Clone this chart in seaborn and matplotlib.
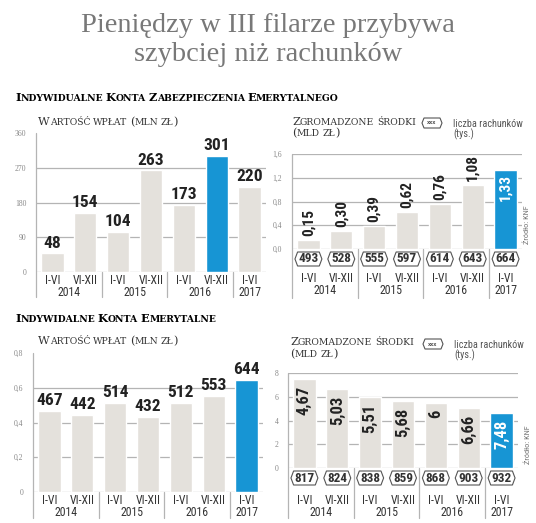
import seaborn as sns
import matplotlib.pyplot as plt
import pandas as pd
from matplotlib import font_manager
from matplotlib.patches import Polygon
from matplotlib.transforms import blended_transform_factory

W, H = 536, 523

# --- data ---
periods = ["I-VI", "VI-XII", "I-VI", "VI-XII", "I-VI", "VI-XII", "I-VI"]
years = ["2014", "2014", "2015", "2015", "2016", "2016", "2017"]

ikze_wplaty = [48, 154, 104, 263, 173, 301, 220]          # mln zl
ikze_srodki = [0.15, 0.30, 0.39, 0.62, 0.76, 1.08, 1.33]  # mld zl
ikze_rachunki = [493, 528, 555, 597, 614, 643, 664]       # tys.

ike_wplaty = [467, 442, 514, 432, 512, 553, 644]           # printed labels
ike_wplaty_bars = [0.467, 0.442, 0.514, 0.432, 0.512, 0.553, 0.644]  # on the 0-0,8 scale
ike_srodki = ["4,67", "5,03", "5,51", "5,68", "6", "6,66", "7,48"]
ike_srodki_bars = [7.48, 6.66, 6.0, 5.68, 5.51, 5.03, 4.67]  # bar heights as drawn
ike_rachunki = [817, 824, 838, 859, 868, 903, 932]

GREY = "#e4e1dc"
BLUE = "#1795d4"
LINE = "#b4b4b4"

sns.set_theme(style="white")
plt.rcParams["font.family"] = ["DejaVu Sans"]

# pick a narrow sans for the numbers, whatever is installed
NUM = {"family": "Roboto", "stretch": "normal"}
narrow = {}
for f in font_manager.fontManager.ttflist:
    low = f.name.lower()
    if "narrow" in low or "condensed" in low:
        narrow.setdefault(f.name, "normal")
    elif f.stretch in ("condensed", "semi-condensed") and f.name in ("DejaVu Sans", "Noto Sans", "Open Sans", "Roboto"):
        narrow.setdefault(f.name, f.stretch)
for pref in ["Liberation Sans Narrow", "Roboto Condensed", "DejaVu Sans Condensed",
             "Noto Sans Condensed", "Open Sans Condensed", "DejaVu Sans", "Noto Sans",
             "Open Sans", "Roboto"]:
    if pref in narrow:
        NUM = {"family": pref, "stretch": narrow[pref]}
        break
NARROW = NUM["family"] != "Roboto" or NUM["stretch"] != "normal"
K = 1.0 if NARROW else 0.9

fig = plt.figure(figsize=(W / 100, H / 100), dpi=100)
fig.patch.set_facecolor("white")


def px(x):
    return x / W


def py(y):
    return 1 - y / H


def small_caps(x, y, text, big, small, **kw):
    r = fig.canvas.get_renderer()
    runs = []
    for ch in text:
        kind = "sp" if ch == " " else ("lo" if ch.islower() else "up")
        if runs and runs[-1][1] == kind:
            runs[-1][0] += ch
        else:
            runs.append([ch, kind])
    cur = x
    for s, kind in runs:
        if kind == "sp":
            cur += len(s) * big * 0.32
            continue
        t = fig.text(px(cur), py(y), s.upper(), fontsize=big if kind == "up" else small,
                     va="baseline", ha="left", **kw)
        cur += t.get_window_extent(r).width


def hexagon(ax, trans, cx, cy, hw, hh, tip):
    pts = [(cx - hw - tip, cy), (cx - hw, cy + hh), (cx + hw, cy + hh),
           (cx + hw + tip, cy), (cx + hw, cy - hh), (cx - hw, cy - hh)]
    ax.add_patch(Polygon(pts, closed=True, transform=trans, fc="white",
                         ec="#555555", lw=0.8, clip_on=False, zorder=3))


def bar_panel(x0, x1, ytop, ybot, heights, hi, ymax, ticks, ticklabels,
              top_line, row1, row2, line_end):
    ax = fig.add_axes([px(x0), py(ybot), px(x1 - x0), (ybot - ytop) / H])
    df = pd.DataFrame({"cat": [f"{p} {y}" for p, y in zip(periods, years)], "v": heights})
    colors = [BLUE if i == hi else GREY for i in range(len(df))]
    sns.barplot(data=df, x="cat", y="v", hue="cat", palette=colors, legend=False,
                width=0.68, saturation=1, ax=ax, zorder=2)
    ax.set_xlim(-0.5, len(df) - 0.5)
    ax.set_ylim(0, ymax)
    ax.set_yticks(ticks, ticklabels)
    ax.set_xticks([])
    ax.set_xlabel("")
    ax.set_ylabel("")
    for s in ax.spines.values():
        s.set_visible(False)
    ax.patch.set_alpha(0)
    grid = ticks if top_line else ticks[:-1]
    for t in grid:
        ax.axhline(t, color=LINE, lw=0.9, zorder=0)
    ax.tick_params(axis="y", length=0, pad=7, labelsize=5.5, labelcolor="#888888")
    for lab in ax.get_yticklabels():
        lab.set_family("Liberation Serif")

    tr = blended_transform_factory(ax.transData, fig.transFigure)
    ax.plot([-0.5, -0.5], [py(ytop), py(line_end)], transform=tr, clip_on=False,
            color=LINE, lw=0.9)
    for i in range(len(years) - 1):
        if years[i] != years[i + 1]:
            ax.plot([i + 0.5, i + 0.5], [py(ybot), py(line_end)], transform=tr,
                    clip_on=False, color=LINE, lw=0.9)
    for i, p in enumerate(periods):
        ax.text(i, py(row1), p, transform=tr, ha="center", va="center",
                fontsize=8.5 * K, color="#333333", **NUM)
    for yr in dict.fromkeys(years):
        idx = [i for i, y in enumerate(years) if y == yr]
        ax.text(sum(idx) / len(idx), py(row2), yr, transform=tr, ha="center",
                va="center", fontsize=8.5 * K, color="#333333", **NUM)
    return ax, tr


def accounts(ax, tr, values, ycen):
    for i, v in enumerate(values):
        hexagon(ax, tr, i, py(ycen), 0.33, 7 / H, 0.08)
        ax.text(i, py(ycen), str(v), transform=tr, ha="center", va="center",
                fontsize=9.5 * K, weight="bold", color="#333333", zorder=4, **NUM)


def legend(x, y):
    ax0 = fig.axes[0]
    hexagon(ax0, fig.transFigure, px(x), py(y), px(8), 5 / H, px(2))
    fig.text(px(x), py(y), "xxx", ha="center", va="center", fontsize=3.5,
             color="#555555", weight="bold")
    fig.text(px(x + 21), py(y + 4), "liczba rachunków", fontsize=7.3 * K,
             color="#555555", va="baseline", **NUM)
    fig.text(px(x + 21), py(y + 14), "(tys.)", fontsize=7.3 * K,
             color="#555555", va="baseline", **NUM)


# --- titles ---
fig.text(px(268), py(32), "Pieniędzy w III filarze przybywa", ha="center", va="baseline",
         family="Liberation Serif", fontsize=20.4, color="#787878")
fig.text(px(268), py(61), "szybciej niż rachunków", ha="center", va="baseline",
         family="Liberation Serif", fontsize=20.4, color="#787878")

small_caps(15, 101, "Indywidualne Konta Zabezpieczenia Emerytalnego", 8.2, 6.7,
           family="DejaVu Serif", weight="bold", color="#000000")
small_caps(15, 322, "Indywidalne Konta Emerytalne", 8.2, 6.7,
           family="DejaVu Serif", weight="bold", color="#000000")

small_caps(38, 125, "Wartość wpłat (mln zł)", 8.2, 6.7, family="DejaVu Serif", color="#333333")
small_caps(292, 125, "Zgromadzone środki", 8.2, 6.7, family="DejaVu Serif", color="#333333")
small_caps(292, 136, "(mld zł)", 8.2, 6.7, family="DejaVu Serif", color="#333333")
small_caps(38, 344, "Wartość wpłat (mln zł)", 8.2, 6.7, family="DejaVu Serif", color="#333333")
small_caps(290, 345, "Zgromadzone środki", 8.2, 6.7, family="DejaVu Serif", color="#333333")
small_caps(290, 357, "(mld zł)", 8.2, 6.7, family="DejaVu Serif", color="#333333")

# --- IKZE: wplaty ---
ax1, tr1 = bar_panel(36, 266, 133, 272, ikze_wplaty, 5, 360, [0, 90, 180, 270, 360],
                     ["0", "90", "180", "270", "360"], False, 280, 292, 297)
for i, v in enumerate(ikze_wplaty):
    ax1.annotate(str(v), (i, v), xytext=(0, 2), textcoords="offset points", ha="center",
                 va="bottom", fontsize=12.5 * K, weight="bold", color="#222222", **NUM)

# --- IKZE: srodki ---
ax2, tr2 = bar_panel(292, 522, 154, 249, ikze_srodki, 6, 1.6, [0, 0.4, 0.8, 1.2, 1.6],
                     ["0,0", "0,4", "0,8", "1,2", "1,6"], True, 279, 291, 298)
for i, v in enumerate(ikze_srodki):
    lab = f"{v:.2f}".replace(".", ",")
    inside = i == 6
    ax2.annotate(lab, (i, v), xytext=(0, -3 if inside else 3), textcoords="offset points",
                 ha="center", va="top" if inside else "bottom", rotation=90,
                 fontsize=11 * K, weight="bold", color="white" if inside else "#222222", **NUM)
accounts(ax2, tr2, ikze_rachunki, 259)
legend(432, 123)
fig.text(px(527), py(225), "Źródło: KNF", rotation=90, ha="center", va="center",
         fontsize=6, color="#777777", **NUM)

# --- IKE: wplaty ---
ax3, tr3 = bar_panel(33, 263, 353, 492, ike_wplaty_bars, 6, 0.8, [0, 0.2, 0.4, 0.6, 0.8],
                     ["0", "0,2", "0,4", "0,6", "0,8"], False, 500, 512, 518)
for i, (v, lab) in enumerate(zip(ike_wplaty_bars, ike_wplaty)):
    ax3.annotate(str(lab), (i, v), xytext=(0, 2), textcoords="offset points", ha="center",
                 va="bottom", fontsize=12.5 * K, weight="bold", color="#222222", **NUM)

# --- IKE: srodki ---
ax4, tr4 = bar_panel(288, 518, 373, 468, ike_srodki_bars, 6, 8, [0, 2, 4, 6, 8],
                     ["0", "2", "4", "6", "8"], True, 500, 512, 518)
for i, (v, lab) in enumerate(zip(ike_srodki_bars, ike_srodki)):
    ax4.annotate(lab, (i, v), xytext=(0, -5), textcoords="offset points", ha="center",
                 va="top", rotation=90, fontsize=12 * K, weight="bold",
                 color="white" if i == 6 else "#222222", **NUM)
accounts(ax4, tr4, ike_rachunki, 478)
legend(433, 344)
fig.text(px(528), py(445), "Źródło: KNF", rotation=90, ha="center", va="center",
         fontsize=6, color="#777777", **NUM)

fig.savefig("out.png", dpi=100, facecolor="white")
